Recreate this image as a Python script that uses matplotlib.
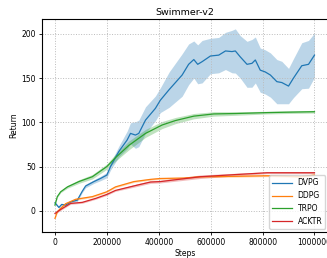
import numpy as np
import matplotlib
matplotlib.use("Agg")
import matplotlib.pyplot as plt

# DVPG mean curve and band half-width
dvpg_steps = [0, 15000, 26000, 41000, 60000, 86000, 105000, 118000, 150000, 176000,
              200000, 214000, 246000, 278000, 291000, 310000, 323000, 349000, 387000,
              406000, 440000, 490000, 515000, 535000, 550000, 567000, 599000, 631000,
              657000, 682000, 695000, 714000, 740000, 759000, 772000, 791000, 810000,
              830000, 855000, 874000, 900000, 919000, 951000, 977000, 1000000]
dvpg_mean = [9, 3.8, 7.2, 6.4, 10, 12, 22, 28, 33, 36.6,
             40.4, 50, 67, 80, 87.5, 85.6, 87.5, 102.6, 115.8,
             125, 137, 153.5, 165.6, 171, 165.6, 168.6, 175, 176,
             180.7, 180, 180.7, 174, 165.6, 166.7, 170.5, 159, 157,
             153.5, 146, 145, 141, 150, 164, 165.6, 176]
dvpg_std = [1, 1, 1, 1, 1, 1.5, 1.5, 2, 2, 2.5,
            3, 4, 6, 10, 12, 15, 15, 15, 14,
            14, 20, 24, 23, 21, 22, 24, 20, 20,
            21, 24, 25, 24, 26, 27, 26, 25, 25,
            25, 25, 24, 20, 22, 26, 27, 25]

# TRPO
trpo_steps = [0, 9000, 22000, 48000, 92000, 144000, 200000, 233000, 285000, 349000,
              413000, 464000, 535000, 612000, 700000, 817000, 900000, 1000000]
trpo_mean = [6.4, 16, 21.5, 27, 33, 38.5, 50, 60, 74, 87.5,
             97, 102, 107, 109.5, 110, 111, 111.5, 112]
trpo_std = [0.5, 1, 1, 1.5, 2, 2.5, 3, 4, 5, 4.5,
            4, 3.5, 3, 2.5, 2, 1.5, 1.5, 1.5]

# DDPG
ddpg_steps = [0, 9000, 41000, 80000, 144000, 200000, 233000, 304000, 368000, 406000,
              496000, 560000, 700000, 817000, 945000, 1000000]
ddpg_mean = [-8.6, -1, 8, 13, 16, 21.5, 27, 33, 35.5, 36.5,
             37, 38.5, 39, 39.6, 38.5, 40.4]
ddpg_std = [1, 1, 1, 1, 1, 1, 1, 1, 1, 1,
            1, 1, 1, 1, 1, 1]

# ACKTR
acktr_steps = [0, 22000, 60000, 105000, 157000, 200000, 233000, 317000, 368000, 406000,
               560000, 700000, 817000, 1000000]
acktr_mean = [-3, 1.5, 8.3, 9.5, 14, 18.5, 23, 29, 32.5, 33,
              38.5, 41, 43, 43]
acktr_std = [1, 1, 1, 1, 1, 1, 1, 1.5, 1.5, 1.5,
             2, 1.5, 1, 1]

series = [
    ("DVPG", dvpg_steps, dvpg_mean, dvpg_std, "C0"),
    ("DDPG", ddpg_steps, ddpg_mean, ddpg_std, "C1"),
    ("TRPO", trpo_steps, trpo_mean, trpo_std, "C2"),
    ("ACKTR", acktr_steps, acktr_mean, acktr_std, "C3"),
]

fig = plt.figure(figsize=(3.27, 2.58), dpi=100)
ax = fig.add_axes([42 / 327, 26 / 258, 286.5 / 327, 212.7 / 258])

for name, x, m, s, c in series:
    x = np.array(x)
    m = np.array(m)
    s = np.array(s)
    ax.fill_between(x, m - s, m + s, color=c, alpha=0.3, linewidth=0)
    ax.plot(x, m, color=c, linewidth=0.9, label=name)

ax.set_xlim(-50000, 1054000)
ax.set_ylim(-24, 216.5)
ax.set_xticks([0, 200000, 400000, 600000, 800000, 1000000])
ax.set_xticklabels(["0", "200000", "400000", "600000", "800000", "1000000"])
ax.set_yticks([0, 50, 100, 150, 200])
ax.tick_params(labelsize=5.5, length=2.5, width=0.6, pad=2)
ax.grid(True, linestyle=":", color="#bbbbbb", linewidth=0.7)
for sp in ax.spines.values():
    sp.set_linewidth(0.8)

ax.set_title("Swimmer-v2", fontsize=6.8, pad=3)
ax.set_xlabel("Steps", fontsize=5.5, labelpad=1)
ax.set_ylabel("Return", fontsize=5.5, labelpad=2)
ax.legend(loc="lower right", fontsize=5.5, handlelength=2.5,
          borderaxespad=0.4, framealpha=0.8)

fig.savefig("out.png", dpi=100)
